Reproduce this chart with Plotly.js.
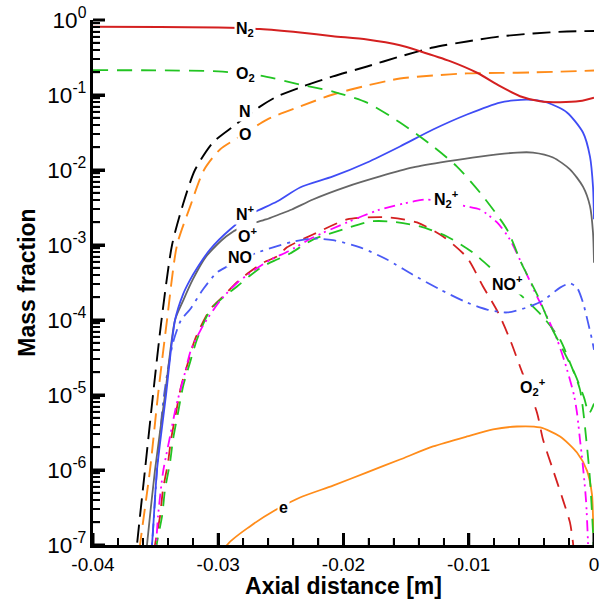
<!DOCTYPE html>
<html>
<head>
<meta charset="utf-8">
<script src="https://cdn.plot.ly/plotly-3.0.1.min.js"></script>
<style>html,body{margin:0;padding:0;background:#fff;}#chart{width:600px;height:599px;}</style>
</head>
<body>
<div id="chart"></div>
<script>
// ---- data (x in m, mass fraction) ----
const xN2 = [-0.04, -0.03465, -0.03, -0.02667, -0.02347, -0.02084, -0.01812, -0.01549, -0.01389, -0.0115, -0.00934, -0.0075, -0.00591, -0.00431, -0.00271, -0.00112, 0];
const yN2 = [0.811, 0.807, 0.794, 0.759, 0.681, 0.608, 0.549, 0.461, 0.384, 0.283, 0.198, 0.131, 0.0964, 0.0826, 0.0801, 0.083, 0.092];

const xO2 = [-0.04, -0.03465, -0.03, -0.02667, -0.02347, -0.02084, -0.01812, -0.01549, -0.01285, -0.01094, -0.0091, -0.00695, -0.00575, -0.00447, -0.00351, -0.00248, -0.00152, -0.0008, -0.0004, 0];
const yO2 = [0.214, 0.213, 0.206, 0.182, 0.138, 0.111, 0.079, 0.043, 0.0206, 0.0111, 0.0050, 0.00161, 5.5e-4, 2.06e-4, 8.7e-5, 4.0e-5, 1.9e-5, 9.3e-6, 5.7e-6, 7.7e-6];

const xN = [-0.03705, -0.03649, -0.03585, -0.03521, -0.03453, -0.03369, -0.03281, -0.03186, -0.03042, -0.02882, -0.02667, -0.02531, -0.02347, -0.02084, -0.01812, -0.01549, -0.01285, -0.01014, -0.0075, -0.00487, -0.00216, 0];
const yN = [1e-8, 1e-7, 1e-6, 1e-5, 1e-4, 1e-3, 3.5e-3, 1e-2, 0.0233, 0.038, 0.070, 0.0955, 0.126, 0.177, 0.24, 0.326, 0.43, 0.517, 0.603, 0.661, 0.703, 0.713];

const xO = [-0.03697, -0.03625, -0.03545, -0.03481, -0.03409, -0.03329, -0.03226, -0.03114, -0.02986, -0.02826, -0.02611, -0.02347, -0.02084, -0.01812, -0.01549, -0.01285, -0.01014, -0.0075, -0.00487, 0];
const yO = [1e-8, 1e-7, 1e-6, 1e-5, 1e-4, 1e-3, 3.2e-3, 1e-2, 0.0188, 0.028, 0.047, 0.0703, 0.1016, 0.134, 0.166, 0.182, 0.194, 0.197, 0.200, 0.212];

const xNp = [-0.03585, -0.03529, -0.03489, -0.03417, -0.03345, -0.03281, -0.03226, -0.0317, -0.03066, -0.02906, -0.02747, -0.02531, -0.02347, -0.02084, -0.01812, -0.01549, -0.01285, -0.01014, -0.0075, -0.00535, -0.00375, -0.00216, -0.00088, -0.00032, -0.00008, 0];
const yNp = [1e-8, 1e-7, 1e-6, 1e-5, 1e-4, 2.2e-4, 3.4e-4, 4.9e-4, 8.7e-4, 1.61e-3, 2.55e-3, 3.8e-3, 5.85e-3, 8.2e-3, 0.0126, 0.0206, 0.0347, 0.055, 0.0794, 0.087, 0.0794, 0.0585, 0.0316, 0.0151, 6.0e-3, 2.2e-3];

const xOp = [-0.03625, -0.03569, -0.03505, -0.03425, -0.03345, -0.03281, -0.03202, -0.03098, -0.02938, -0.02802, -0.02619, -0.02515, -0.02412, -0.02244, -0.01972, -0.01709, -0.01445, -0.01174, -0.00910, -0.00615, -0.00487, -0.00327, -0.00192, -0.00088, -0.00032, -0.00008, 0];
const yOp = [1e-8, 1e-7, 1e-6, 1e-5, 1e-4, 1.8e-4, 3.5e-4, 7.0e-4, 1.3e-3, 1.77e-3, 2.19e-3, 2.55e-3, 2.97e-3, 4.04e-3, 6.0e-3, 8.2e-3, 0.0108, 0.013, 0.0151, 0.0171, 0.0171, 0.0147, 0.0102, 6.0e-3, 3.3e-3, 1.47e-3, 5.8e-4];

const xNO = [-0.03585, -0.03529, -0.03489, -0.03433, -0.03361, -0.03297, -0.03226, -0.03122, -0.03010, -0.02850, -0.02690, -0.02562, -0.02403, -0.02244, -0.02084, -0.01868, -0.01653, -0.01445, -0.01229, -0.01014, -0.00854, -0.00695, -0.00535, -0.00407, -0.00271, -0.00192, -0.00136, -0.00088, -0.00048, -0.00016, 0];
const yNO = [1e-8, 1e-7, 1e-6, 1e-5, 5e-5, 1e-4, 1.38e-4, 2.55e-4, 4.3e-4, 6.0e-4, 7.9e-4, 9.3e-4, 1.11e-3, 1.22e-3, 1.16e-3, 9.3e-4, 6.4e-4, 4.0e-4, 2.55e-4, 1.71e-4, 1.38e-4, 1.26e-4, 1.47e-4, 1.82e-4, 2.7e-4, 3.07e-4, 2.7e-4, 1.71e-4, 9.3e-5, 5.5e-5, 4.0e-5];

const xN2p = [-0.03561, -0.03497, -0.03481, -0.03441, -0.03385, -0.03337, -0.03265, -0.03218, -0.03138, -0.03106, -0.02978, -0.02842, -0.02706, -0.02579, -0.02443, -0.02244, -0.01972, -0.01709, -0.01445, -0.01333, -0.01014, -0.00910, -0.00774, -0.00671, -0.00567, -0.00455, -0.00375, -0.00295, -0.00232, -0.00160, -0.00136, -0.00112, -0.00088, -0.00064, -0.00048, -0.00032];
const yN2p = [1e-8, 1e-7, 2.4e-7, 9.3e-7, 2.8e-6, 7e-6, 2e-5, 4e-5, 7.5e-5, 9.3e-5, 1.87e-4, 3.2e-4, 4.7e-4, 6.4e-4, 8.2e-4, 1.26e-3, 2.0e-3, 2.97e-3, 3.8e-3, 4.04e-3, 3.26e-3, 2.97e-3, 2.0e-3, 1.18e-3, 5.2e-4, 2.06e-4, 1.11e-4, 5.5e-5, 2.7e-5, 1.0e-5, 5.8e-6, 2.55e-6, 1.1e-6, 4e-7, 1.08e-7, 1e-8];

const xNOp = [-0.03553, -0.03489, -0.03449, -0.03425, -0.03385, -0.03361, -0.03321, -0.03281, -0.03226, -0.0317, -0.03066, -0.02962, -0.0285, -0.02747, -0.02643, -0.02531, -0.02427, -0.02244, -0.02004, -0.01788, -0.01629, -0.01389, -0.01174, -0.00966, -0.0075, -0.00591, -0.00407, -0.00271, -0.00192, -0.00112, -0.00056, -0.00032, -0.00016, -0.00004, 0];
const yNOp = [1e-8, 1.07e-7, 2.4e-7, 5.5e-7, 1.26e-6, 2.55e-6, 5.8e-6, 1.3e-5, 2.7e-5, 5.5e-5, 1.34e-4, 2.0e-4, 2.8e-4, 3.9e-4, 5.2e-4, 6.4e-4, 7.7e-4, 1.18e-3, 1.61e-3, 2.06e-3, 2.06e-3, 1.77e-3, 1.3e-3, 7.9e-4, 3.8e-4, 2.2e-4, 1.1e-4, 5.5e-5, 2.7e-5, 1.18e-5, 2.06e-6, 7.5e-7, 2.7e-7, 1e-7, 1e-8];

const xO2p = [-0.03569, -0.03505, -0.03465, -0.03441, -0.03401, -0.03377, -0.03337, -0.03297, -0.03242, -0.03186, -0.03066, -0.02962, -0.0285, -0.02747, -0.02643, -0.02531, -0.02451, -0.02244, -0.01972, -0.01812, -0.01629, -0.01413, -0.01205, -0.01014, -0.00886, -0.00766, -0.00671, -0.00591, -0.00455, -0.00407, -0.00327, -0.00248, -0.00192, -0.00168, -0.00152];
const yO2p = [1e-8, 1e-7, 2.4e-7, 5.5e-7, 1.26e-6, 2.55e-6, 5.8e-6, 1.3e-5, 2.7e-5, 5.5e-5, 1.38e-4, 2.06e-4, 3.2e-4, 4.4e-4, 5.8e-4, 7.0e-4, 9.3e-4, 1.38e-3, 2.19e-3, 2.33e-3, 2.33e-3, 2.0e-3, 1.3e-3, 6.8e-4, 2.8e-4, 1.26e-4, 5.5e-5, 2.4e-5, 5.8e-6, 2.55e-6, 1.0e-6, 4e-7, 2e-7, 1.08e-7, 5e-8];

const xE = [-0.03066, -0.0293, -0.02747, -0.02547, -0.02347, -0.02084, -0.01812, -0.01549, -0.01285, -0.01014, -0.00806, -0.00615, -0.00431, -0.00271, -0.00136, -0.00056, -0.00016, -0.00008, 0, 0];
const yE = [3e-8, 1e-7, 1.77e-7, 2.9e-7, 4.3e-7, 6.2e-7, 9.3e-7, 1.38e-6, 2.06e-6, 2.8e-6, 3.47e-6, 3.8e-6, 3.69e-6, 2.8e-6, 1.71e-6, 9.8e-7, 4.7e-7, 2.4e-7, 1.18e-7, 5e-8];

// axis tick values
const xTickVals = [-0.04, -0.03, -0.02, -0.01, 0];
const yDecades = [-7, -6, -5, -4, -3, -2, -1, 0];
// tick label replacements (library default text -> shown text)
const xTickAlias = {'\u22120.04': '-0.04', '\u22120.03': '-0.03', '\u22120.02': '-0.02', '\u22120.01': '-0.01'};
const yTickAlias = {'1': '10<sup>0</sup>', '10<sup>\u22121</sup>': '10<sup>-1</sup>', '10<sup>\u22122</sup>': '10<sup>-2</sup>', '10<sup>\u22123</sup>': '10<sup>-3</sup>', '10<sup>\u22124</sup>': '10<sup>-4</sup>', '10<sup>\u22125</sup>': '10<sup>-5</sup>', '10<sup>\u22126</sup>': '10<sup>-6</sup>', '10<sup>\u22127</sup>': '10<sup>-7</sup>'};

// labels: [text, x, log10(y)]
const labelText = ['N<sub>2</sub>', 'O<sub>2</sub>', 'N', 'O', 'N<sup>+</sup>', 'O<sup>+</sup>', 'NO', 'N<sub>2</sub><sup>+</sup>', 'NO<sup>+</sup>', 'O<sub>2</sub><sup>+</sup>', 'e'];
const labelX = [-0.02786, -0.02786, -0.02786, -0.02786, -0.02786, -0.0277, -0.02826, -0.01174, -0.00687, -0.00487, -0.02483];
const labelLogY = [-0.127, -0.727, -1.22, -1.527, -2.567, -2.873, -3.167, -2.393, -3.5, -4.887, -6.5];

// ---- styling ----
const GREEN = '#22c422', RED = '#d42020', ORANGE = '#ff8c1a';
function tr(x, y, color, width, dash) {
  return {x: x, y: y, type: 'scatter', mode: 'lines',
          line: {color: color, width: width, dash: dash, shape: 'spline', smoothing: 0.7},
          hoverinfo: 'skip'};
}
const data = [
  tr(xE, yE, ORANGE, 1.8, 'solid'),
  tr(xO2p, yO2p, RED, 1.8, '14px,9px'),
  tr(xNOp, yNOp, GREEN, 1.8, '14px,9px'),
  tr(xN2p, yN2p, '#ff00ff', 1.8, '11px,5px,2px,4px,2px,5px'),
  tr(xNO, yNO, '#4a5af5', 1.8, '13px,6px,3px,6px'),
  tr(xOp, yOp, '#666666', 1.8, 'solid'),
  tr(xNp, yNp, '#3f4cf5', 1.8, 'solid'),
  tr(xO, yO, ORANGE, 1.9, '16px,8px'),
  tr(xN, yN, '#000000', 1.9, '18px,8px'),
  tr(xO2, yO2, GREEN, 1.8, '15px,9px'),
  tr(xN2, yN2, RED, 2, 'solid')
];

const FONT = 'Liberation Sans, Arial, Helvetica, sans-serif';
const annotations = labelText.map((t, i) => ({
  x: labelX[i], y: labelLogY[i], xref: 'x', yref: 'y', text: '<b>' + t + '</b>',
  showarrow: false, bgcolor: 'white', borderpad: 1,
  font: {family: FONT, size: 16, color: '#000'}
}));

// inward tick marks drawn as axis-referenced line shapes (plot area 501 x 525 px)
const M = {l: 93, r: 6, t: 20, b: 54};
const plotW = 600 - M.l - M.r, plotH = 599 - M.t - M.b;
const shapes = [];
function xTick(v, len, w) {
  shapes.push({type: 'line', xref: 'x', yref: 'paper', x0: v, x1: v, y0: 0, y1: len / plotH, line: {color: '#000', width: w}});
}
function yTick(frac, len, w) {
  shapes.push({type: 'line', xref: 'paper', yref: 'paper', x0: 0, x1: len / plotW, y0: frac, y1: frac, line: {color: '#000', width: w}});
}
xTickVals.forEach(v => xTick(v, 12, 3));
for (let i = 1; i < 20; i++) if (i % 5 !== 0) xTick(-0.04 + i * 0.002, 7, 1.5);
yDecades.forEach(d => yTick((d + 7) / 7, 12, 3));
for (let d = -7; d < 0; d++) for (let m = 2; m <= 9; m++) yTick((d + Math.log10(m) + 7) / 7, 7, 1.5);

const layout = {
  width: 600, height: 599,
  margin: M,
  showlegend: false,
  font: {family: FONT, color: '#000'},
  xaxis: {
    range: [-0.04, 0], tickmode: 'linear', tick0: 0, dtick: 0.01, labelalias: xTickAlias,
    ticks: 'inside', ticklen: 12, tickwidth: 3, tickcolor: '#000',
    showline: true, linewidth: 3, linecolor: '#000',
    showgrid: false, zeroline: false,
    tickfont: {family: FONT, size: 19, color: '#000'},
    minor: {ticks: 'inside', ticklen: 7, tickwidth: 1.5, tickcolor: '#000', dtick: 0.002, tick0: 0, showgrid: false},
    title: {text: '<b>Axial distance [m]</b>', font: {family: FONT, size: 23, color: '#000'}, standoff: 0}
  },
  yaxis: {
    type: 'log', range: [-7, 0], tickmode: 'linear', tick0: 0, dtick: 1,
    exponentformat: 'power', showexponent: 'all', labelalias: yTickAlias,
    ticks: 'inside', ticklen: 12, tickwidth: 3, tickcolor: '#000',
    showline: true, linewidth: 3, linecolor: '#000',
    showgrid: false, zeroline: false,
    tickfont: {family: FONT, size: 18, color: '#000'},
    minor: {ticks: 'inside', ticklen: 7, tickwidth: 1.5, tickcolor: '#000', dtick: 'D1', showgrid: false},
    title: {text: '<b>Mass fraction</b>', font: {family: FONT, size: 23, color: '#000'}, standoff: 6}
  },
  shapes: shapes,
  annotations: annotations
};

Plotly.newPlot('chart', data, layout, {displayModeBar: false});
</script>
</body>
</html>
